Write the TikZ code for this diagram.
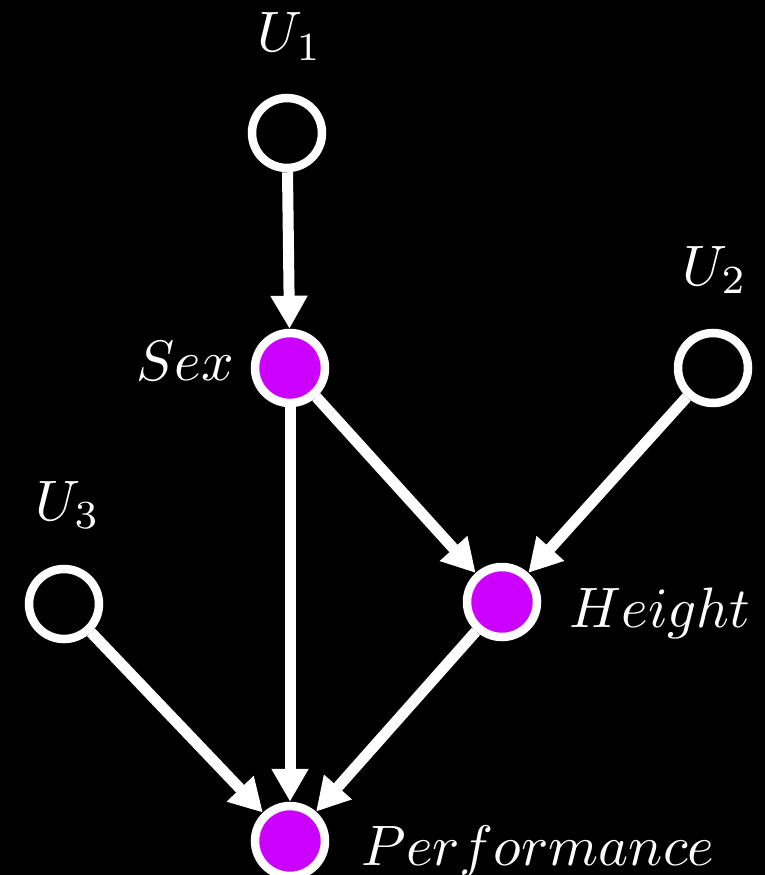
\documentclass[tikz,border=0pt]{standalone}
\usetikzlibrary{arrows.meta}
\definecolor{nodepurple}{HTML}{CC00FF}

\begin{document}
\begin{tikzpicture}[x=1pt, y=-1pt, every node/.style={text=white}, >={Triangle[length=33pt, width=35pt]}]
	\tikzset{
		latent/.style={circle, draw=white, line width=8.5pt, fill=black, minimum size=70pt, inner sep=0pt},
		observed/.style={latent, fill=nodepurple},
		varlabel/.style={anchor=base, scale=5.7},
		edge/.style={->, draw=white, line width=11pt}
	}
	\useasboundingbox (0,0) rectangle (765,875);
	\fill[black] (0,0) rectangle (765,875);
	% nodes
	\node[latent] (u1) at (287,133) {};
	\node[observed] (sex) at (290,368) {};
	\node[latent] (u2) at (713,368) {};
	\node[observed] (height) at (502,602) {};
	\node[latent] (u3) at (64,604) {};
	\node[observed] (perf) at (290,841) {};
	% labels
	\node[varlabel] (u1lab) at (290,52) {$U_1$};
	\node[varlabel] (u2lab) at (715,285) {$U_2$};
	\node[varlabel] (u3lab) at (68,520) {$U_3$};
	\node[varlabel] (sexlab) at (185,380) {$Sex$};
	\node[varlabel] (heightlab) at (660,627) {$Height$};
	\node[varlabel] (perflab) at (538,865) {$Performance$};
	% edges
	\draw[edge] (u1) -- (sex);
	\draw[edge] (sex) -- (height);
	\draw[edge] (u2) -- (height);
	\draw[edge] (sex) -- (perf);
	\draw[edge] (u3) -- (perf);
	\draw[edge] (height) -- (perf);
\end{tikzpicture}
\end{document}
